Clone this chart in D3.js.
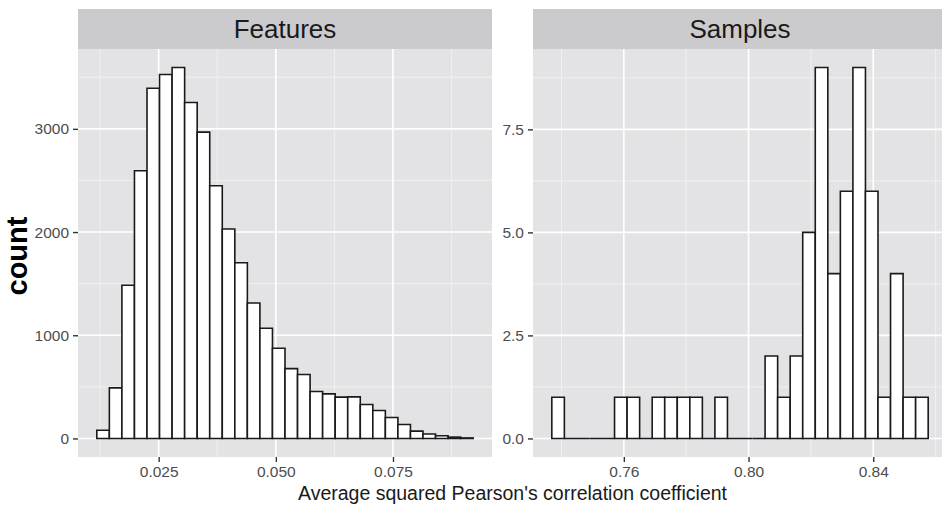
<!DOCTYPE html>
<html>
<head>
<meta charset="utf-8">
<script src="https://cdn.jsdelivr.net/npm/d3@7"></script>
<style>
  body { margin: 0; background: #fff; }
  svg { display: block; font-family: "Liberation Sans", Arial, sans-serif; }
</style>
</head>
<body>
<div id="main"></div>
<script>
const w = 942, h = 506;

// histogram of features (30 bins)
const featureBinStart = 0.0118, featureBinWidth = 0.002677;
const featureCounts = [80, 490, 1484, 2594, 3394, 3527, 3594, 3256, 2968, 2449,
                       2029, 1703, 1313, 1068, 874, 677, 619, 455, 432, 400,
                       403, 329, 271, 203, 135, 71, 43, 26, 13, 5];

// histogram of samples (30 bins)
const sampleBinStart = 0.7369, sampleBinWidth = 0.004024;
const sampleCounts = [1, 0, 0, 0, 0, 1, 1, 0, 1, 1,
                      1, 1, 0, 1, 0, 0, 0, 2, 1, 2,
                      5, 9, 4, 6, 9, 6, 1, 4, 1, 1];

const featureXTicks = [0.025, 0.050, 0.075];
const featureYTicks = [0, 1000, 2000, 3000];
const sampleXTicks = [0.76, 0.80, 0.84];
const sampleYTicks = [0, 2.5, 5.0, 7.5];

const panelTitles = ['Features', 'Samples'];
const xTitle = "Average squared Pearson's correlation coefficient";
const yTitle = 'count';

const panelTop = 49, panelBottom = 457, panelW = 414, stripTop = 9;
const panels = [
  { title: panelTitles[0], left: 78, start: featureBinStart, width: featureBinWidth, counts: featureCounts,
    xTicks: featureXTicks, yTicks: featureYTicks, xFmt: d3.format('.3f'), yFmt: d3.format('d') },
  { title: panelTitles[1], left: 533, start: sampleBinStart, width: sampleBinWidth, counts: sampleCounts,
    xTicks: sampleXTicks, yTicks: sampleYTicks, xFmt: d3.format('.2f'), yFmt: d3.format('.1f') }
];

const svg = d3.select('#main')
  .append('svg')
  .attr('width', w)
  .attr('height', h);

// midpoints between majors, plus one step outside, for the thin grid lines
function minors(ticks, domain) {
  const step = ticks[1] - ticks[0];
  const out = [];
  for (let i = -1; i < ticks.length; i++) out.push(ticks[0] + step * (i + 0.5));
  return out.filter(v => v > domain[0] && v < domain[1]);
}

panels.forEach(p => {
  const bins = p.counts.map((c, i) => ({ x0: p.start + i * p.width, x1: p.start + (i + 1) * p.width, count: c }));
  const lo = bins[0].x0, hi = bins[bins.length - 1].x1, pad = (hi - lo) * 0.05;
  const maxC = d3.max(p.counts);

  const x = d3.scaleLinear().domain([lo - pad, hi + pad]).range([p.left, p.left + panelW]);
  const y = d3.scaleLinear().domain([-maxC * 0.05, maxC * 1.05]).range([panelBottom, panelTop]);

  const g = svg.append('g');

  // strip
  g.append('rect')
    .attr('x', p.left).attr('y', stripTop)
    .attr('width', panelW).attr('height', panelTop - stripTop)
    .attr('fill', '#cbcbcd');
  g.append('text')
    .attr('x', p.left + panelW / 2).attr('y', 38)
    .attr('text-anchor', 'middle')
    .attr('font-size', 26)
    .attr('fill', '#1a1a1a')
    .text(p.title);

  // panel background
  g.append('rect')
    .attr('x', p.left).attr('y', panelTop)
    .attr('width', panelW).attr('height', panelBottom - panelTop)
    .attr('fill', '#e3e3e5');

  // grid
  g.selectAll('.minx').data(minors(p.xTicks, x.domain())).enter().append('line')
    .attr('x1', d => x(d)).attr('x2', d => x(d))
    .attr('y1', panelTop).attr('y2', panelBottom)
    .attr('stroke', '#f4f4f4').attr('stroke-width', 0.8);
  g.selectAll('.miny').data(minors(p.yTicks, y.domain())).enter().append('line')
    .attr('y1', d => y(d)).attr('y2', d => y(d))
    .attr('x1', p.left).attr('x2', p.left + panelW)
    .attr('stroke', '#f4f4f4').attr('stroke-width', 0.8);
  g.selectAll('.majx').data(p.xTicks).enter().append('line')
    .attr('x1', d => x(d)).attr('x2', d => x(d))
    .attr('y1', panelTop).attr('y2', panelBottom)
    .attr('stroke', '#fff').attr('stroke-width', 1.6);
  g.selectAll('.majy').data(p.yTicks).enter().append('line')
    .attr('y1', d => y(d)).attr('y2', d => y(d))
    .attr('x1', p.left).attr('x2', p.left + panelW)
    .attr('stroke', '#fff').attr('stroke-width', 1.6);

  // bars as closed paths so empty bins still show their outline on the baseline
  g.selectAll('.bar').data(bins).enter().append('path')
    .attr('d', d => 'M' + x(d.x0) + ',' + y(0) + 'V' + y(d.count) + 'H' + x(d.x1) + 'V' + y(0) + 'Z')
    .attr('fill', '#fff')
    .attr('stroke', '#1a1a1a')
    .attr('stroke-width', 1.6);

  // axes
  const xAxis = d3.axisBottom(x).tickValues(p.xTicks).tickFormat(p.xFmt).tickSize(5).tickPadding(4);
  const yAxis = d3.axisLeft(y).tickValues(p.yTicks).tickFormat(p.yFmt).tickSize(5).tickPadding(4);

  const xa = g.append('g').attr('transform', 'translate(0,' + panelBottom + ')').call(xAxis);
  const ya = g.append('g').attr('transform', 'translate(' + p.left + ',0)').call(yAxis);
  [xa, ya].forEach(a => {
    a.select('.domain').remove();
    a.selectAll('line').attr('stroke', '#333').attr('stroke-width', 1.4);
    a.selectAll('text').attr('fill', '#4d4d4d').attr('font-size', 15.5)
      .attr('font-family', '"Liberation Sans", Arial, sans-serif');
  });
});

svg.append('text')
  .attr('x', (78 + 533 + panelW) / 2).attr('y', 500)
  .attr('text-anchor', 'middle')
  .attr('font-size', 19.5)
  .attr('fill', '#1a1a1a')
  .text(xTitle);

svg.append('text')
  .attr('transform', 'translate(27,256) rotate(-90)')
  .attr('text-anchor', 'middle')
  .attr('font-size', 29)
  .attr('font-weight', 'bold')
  .attr('fill', '#000')
  .text(yTitle);
</script>
</body>
</html>
